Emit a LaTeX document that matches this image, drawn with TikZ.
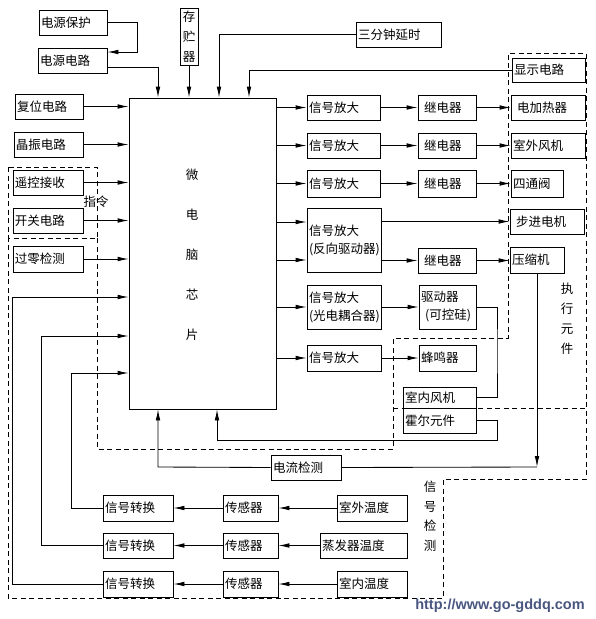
\documentclass[tikz,border=0pt]{standalone}
\usepackage{fontspec}
\setmainfont{Noto Sans CJK SC}
\newfontfamily\urlfont{Liberation Sans}
\usetikzlibrary{arrows.meta}
\definecolor{urlc}{RGB}{72,86,128}
\tikzset{
  box/.style={draw, line width=0.85pt, inner sep=2pt, align=left, font=\fontsize{12.5}{15}\selectfont},
  arr/.style={-{Latex[length=11pt,width=4.6pt]}, line width=0.85pt},
  ln/.style={line width=0.85pt},
  dsh/.style={line width=0.85pt, dash pattern=on 5pt off 3.5pt},
  lbl/.style={font=\fontsize{12.5}{15}\selectfont, inner sep=0pt}
}
\newcommand{\mybox}[7][]{%
  \pgfmathsetmacro\myboxtw{(#5)-(#3)-4}%
  \node[box, text width=\myboxtw pt, minimum height={(#6)-(#4)}, #1] (#2) at ({((#3)+(#5))/2},{((#4)+(#6))/2}) {#7};}
\begin{document}
\begin{tikzpicture}[x=1pt,y=-1pt]
\useasboundingbox (0,0) rectangle (595,619);
% boxes
\mybox{psup}{39}{10}{107}{35}{电源保护}
\mybox{pcirc}{38}{48}{107}{73}{电源电路}
\mybox{reset}{15}{94}{83}{119}{复位电路}
\mybox{xtal}{14}{132}{83}{157}{晶振电路}
\mybox{remote}{13}{170}{83}{195}{遥控接收}
\mybox{switch}{13}{208}{83}{233}{开关电路}
\mybox{zero}{13}{246}{83}{272}{过零检测}
\mybox[align=center]{mem}{180}{8}{198}{65}{存\\[5pt]贮\\[5pt]器}
\mybox{delay}{356}{22}{441}{47}{三分钟延时}
\mybox{disp}{512}{58}{585}{82}{显示电路}
\mybox{chip}{129}{98}{276}{409}{}
\node[lbl, align=center] (chiptxt) at (192,255) {微\\[25pt]电\\[25pt]脑\\[25pt]芯\\[25pt]片};
\mybox{sa1}{307}{95}{380}{120}{信号放大}
\mybox{sa2}{307}{133}{380}{158}{信号放大}
\mybox{sa3}{307}{170}{380}{197}{信号放大}
\mybox{r1}{418}{95}{476}{120}{\ 继电器}
\mybox{r2}{418}{133}{476}{158}{\ 继电器}
\mybox{r3}{418}{170}{476}{197}{\ 继电器}
\mybox{heat}{511}{95}{585}{120}{\ 电加热器}
\mybox{ofan}{511}{133}{585}{158}{室外风机}
\mybox{valve}{511}{170}{563}{197}{四通阀}
\mybox{sarev}{307}{208}{381}{272}{信号放大\\[3pt](反向驱动器)}
\mybox{stepm}{510}{209}{584}{234}{\ 步进电机}
\mybox{r5}{418}{248}{476}{273}{\ 继电器}
\mybox{comp}{510}{247}{564}{273}{压缩机}
\mybox{saopt}{307}{285}{381}{329}{信号放大\\[3pt](光电耦合器)}
\mybox{drv}{419}{285}{476}{329}{驱动器\\[3pt]\ (可控硅)}
\mybox{sa7}{307}{345}{381}{371}{信号放大}
\mybox{buz}{419}{345}{476}{371}{蜂鸣器}
\mybox{ifan}{403}{387}{476}{408}{室内风机}
\mybox{hall}{403}{408}{476}{433}{霍尔元件}
\mybox{cur}{271}{455}{341}{480}{电流检测}
\mybox{sc1}{103}{495}{173}{521}{信号转换}
\mybox{sc2}{103}{533}{173}{558}{信号转换}
\mybox{sc3}{103}{571}{173}{597}{信号转换}
\mybox{sen1}{223}{495}{278}{521}{传感器}
\mybox{sen2}{223}{533}{278}{558}{传感器}
\mybox{sen3}{223}{571}{278}{597}{传感器}
\mybox{tout}{337}{495}{407}{521}{室外温度}
\mybox{tevap}{320}{533}{407}{558}{蒸发器温度}
\mybox{tin}{337}{571}{407}{597}{室内温度}
% coordinates
\coordinate (a1) at (137,52);
\coordinate (t1) at (158,67);
\coordinate (t3) at (219,0);
\coordinate (t4) at (249,0);
\coordinate (f1) at (71,373);
\coordinate (f2) at (41,336);
\coordinate (f3) at (12,297);
\coordinate (c5) at (497,350);
\coordinate (c6) at (497,440);
\coordinate (c7) at (217,440);
\coordinate (c8) at (158,467);
\coordinate (c9) at (537,467);
\coordinate (y222) at (0,222);
\coordinate (y260) at (0,260);
% top connectors
\draw[arr] (psup.east) -| (a1) -- (pcirc.east |- a1);
\draw[arr] (pcirc.east |- t1) -- (t1) -- (t1 |- chip.north);
\draw[arr] (mem.south) -- (mem.south |- chip.north);
\draw[arr] (delay.west) -| (t3 |- chip.north);
\draw[arr] (disp.west) -| (t4 |- chip.north);
% left inputs
\foreach \n in {reset,xtal,remote,switch,zero}
  \draw[arr] (\n.east) -- (\n.east -| chip.west);
\draw[arr] (sc1.west) -| (f1) -- (f1 -| chip.west);
\draw[arr] (sc2.west) -| (f2) -- (f2 -| chip.west);
\draw[arr] (sc3.west) -| (f3) -- (f3 -| chip.west);
% right outputs
\foreach \s/\r/\o in {sa1/r1/heat, sa2/r2/ofan, sa3/r3/valve}{
  \draw[arr] (chip.east |- \s.west) -- (\s.west);
  \draw[arr] (\s.east) -- (\r.west);
  \draw[arr] (\r.east) -- (\o.west |- \r.east);
}
\draw[arr] (chip.east |- y222) -- (sarev.west |- y222);
\draw[arr] (chip.east |- y260) -- (sarev.west |- y260);
\draw[arr] (sarev.east |- stepm.west) -- (stepm.west);
\draw[arr] (sarev.east |- r5.west) -- (r5.west);
\draw[arr] (r5.east) -- (comp.west |- r5.east);
\draw[arr] (chip.east |- saopt.west) -- (saopt.west);
\draw[arr] (saopt.east) -- (drv.west);
\draw[arr] (chip.east |- sa7.west) -- (sa7.west);
\draw[arr] (sa7.east) -- (buz.west);
\draw[ln] (drv.east) -| (c5) |- (ifan.east);
\draw[arr] (hall.east) -| (c6) -- (c7) -- (c7 |- chip.south);
\draw[arr] (comp.south -| c9) -- (c9);
\draw[ln] (c9) -- (cur.east);
\draw[arr] (cur.west) -- (c8) -- (c8 |- chip.south);
% bottom rows
\draw[arr] (tout.west) -- (sen1.east);
\draw[arr] (tevap.west) -- (sen2.east);
\draw[arr] (tin.west) -- (sen3.east);
\draw[arr] (sen1.west) -- (sc1.east);
\draw[arr] (sen2.west) -- (sc2.east);
\draw[arr] (sen3.west) -- (sc3.east);
% dashed regions
\draw[dsh] (8,167) rectangle (97,238);
\draw[dsh] (97,238) -- (97,449) -- (393,449) -- (393,338) -- (508,338) -- (508,53) -- (586,53) -- (586,479) -- (443,479) -- (443,598) -- (8,598) -- (8,238);
\draw[dsh] (393,408) -- (586,408);
% labels
\node[lbl] (cmd) at (96,202) {指令};
\node[lbl, align=center] (exe) at (567,319) {执\\[5pt]行\\[5pt]元\\[5pt]件};
\node[lbl, align=center] (sig) at (430,516) {信\\[4.5pt]号\\[4.5pt]检\\[4.5pt]测};
\node[inner sep=0pt, font=\urlfont\bfseries\fontsize{14.5}{16}\selectfont, text=urlc] (url) at (500,606) {http://www.go-gddq.com};
\end{tikzpicture}
\end{document}
